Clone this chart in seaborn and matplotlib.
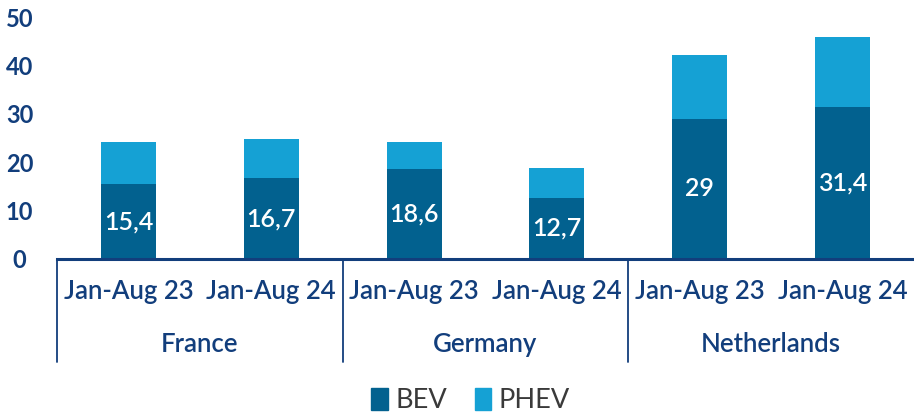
import pandas as pd
import seaborn as sns
import matplotlib.pyplot as plt
from matplotlib.transforms import blended_transform_factory
from matplotlib.patches import Patch

# Data (share of new car registrations, %)
countries = ['France', 'Germany', 'Netherlands']
periods = ['Jan-Aug 23', 'Jan-Aug 24']
bev = [15.4, 16.7, 18.6, 12.7, 29.0, 31.4]
phev = [8.8, 8.0, 5.6, 6.2, 13.2, 14.5]
bev_labels = ['15,4', '16,7', '18,6', '12,7', '29', '31,4']

navy = '#123E7C'
c_bev = '#02618F'
c_phev = '#15A1D4'

rows = []
for i, c in enumerate(countries):
    for j, p in enumerate(periods):
        k = i * 2 + j
        rows.append({'slot': f'{c} {p}', 'BEV': bev[k], 'Total': bev[k] + phev[k]})
df = pd.DataFrame(rows)

sns.set_style('white')
plt.rcParams['font.family'] = ['Lato', 'DejaVu Sans']

fig = plt.figure(figsize=(9.14, 4.17), dpi=100)
ax = fig.add_axes([0.0624, 0.379, 0.9376, 0.580])

order = list(df['slot'])
sns.barplot(data=df, x='slot', y='Total', order=order, color=c_phev, width=0.385,
            saturation=1, ax=ax, edgecolor='none')
sns.barplot(data=df, x='slot', y='BEV', order=order, color=c_bev, width=0.385,
            saturation=1, ax=ax, edgecolor='none')
ax.bar_label(ax.containers[1], labels=bev_labels, label_type='center',
             color='white', fontsize=18, fontweight='semibold')

ax.set_xlim(-0.5, 5.5)
ax.set_ylim(0, 50)
ax.set_yticks(range(0, 51, 10))
ax.set_xlabel('')
ax.set_ylabel('')
ax.set_xticks([])
for s in ['top', 'right', 'left']:
    ax.spines[s].set_visible(False)
ax.spines['bottom'].set_color(navy)
ax.spines['bottom'].set_linewidth(2.2)
ax.tick_params(axis='y', length=0, labelsize=17, labelcolor=navy, pad=27)
for t in ax.get_yticklabels():
    t.set_fontweight('bold')
    t.set_horizontalalignment('center')

# group separators below the axis
trans = blended_transform_factory(ax.transData, ax.transAxes)
for x in [-0.5, 1.5, 3.5]:
    ax.plot([x, x], [0, -0.426], transform=trans, color=navy, lw=1.3, clip_on=False)
for k in range(6):
    ax.text(k, -0.135, periods[k % 2], transform=trans, ha='center', va='center',
            fontsize=18.5, color=navy, fontweight='semibold')
for i, c in enumerate(countries):
    ax.text(i * 2 + 0.5, -0.355, c, transform=trans, ha='center', va='center',
            fontsize=18.5, color=navy, fontweight='semibold')

handles = [Patch(color=c_bev, label='BEV'), Patch(color=c_phev, label='PHEV')]
fig.legend(handles=handles, loc='center', bbox_to_anchor=(0.515, 0.04), ncol=2,
           frameon=False, fontsize=19.5, handlelength=0.6, handleheight=0.9,
           handletextpad=0.3, columnspacing=1.0, labelcolor='#3A3A3A')

fig.savefig('out.png', dpi=100)
